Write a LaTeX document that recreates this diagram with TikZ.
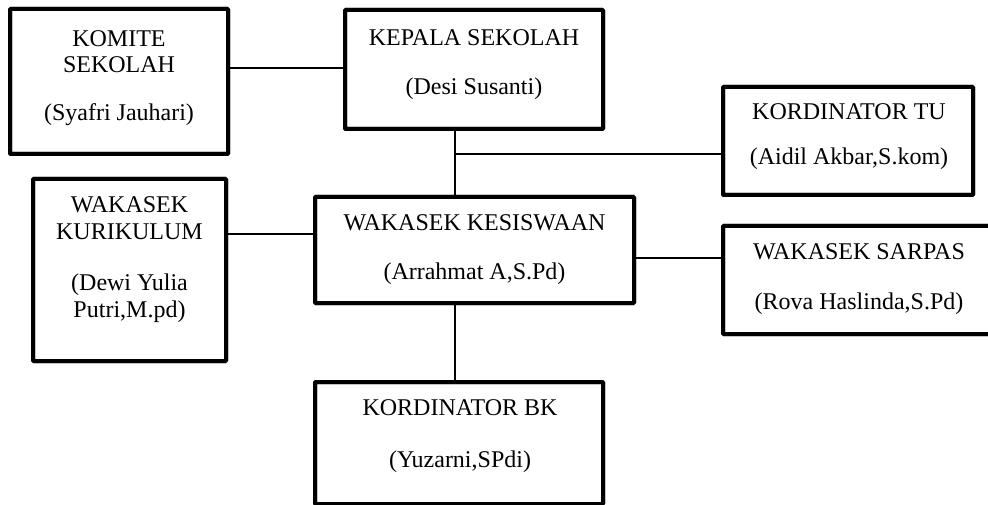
\documentclass[tikz,border=0pt]{standalone}
\usepackage{fontspec}
\setmainfont{Liberation Serif}
\begin{document}
\begin{tikzpicture}[x=1pt,y=-1pt,
  orgbox/.style={draw=black, line width=4pt, rounded corners=1pt, inner sep=0pt, outer sep=0pt, fill=white},
  txt/.style={anchor=base, inner sep=0pt, font=\fontsize{24}{27.6}\selectfont},
  conn/.style={draw=black, line width=1.6pt}]
\useasboundingbox (0,0) rectangle (988,505);
\fill[white] (0,0) rectangle (988,505);

% connector reference points
\coordinate (yKomite) at (0,68);
\coordinate (xMain) at (455,0);
\coordinate (yTU) at (0,154);
\coordinate (yKur) at (0,234);
\coordinate (ySar) at (0,258);

% boxes
\node[orgbox, minimum width=218pt, minimum height=145pt] (komite) at (119,81.5) {};
\node[orgbox, minimum width=258pt, minimum height=119pt] (kepala) at (474,69.5) {};
\node[orgbox, minimum width=250pt, minimum height=108pt] (tu) at (848,141) {};
\node[orgbox, minimum width=272pt, minimum height=108pt] (sarpas) at (859,280) {};
\node[orgbox, minimum width=193pt, minimum height=182pt] (kurikulum) at (129.5,270) {};
\node[orgbox, minimum width=319pt, minimum height=106pt] (kesiswaan) at (474.5,250) {};
\node[orgbox, minimum width=288pt, minimum height=122pt] (bk) at (459,443) {};

% connectors
\begin{scope}[on background layer/.try]
\end{scope}
\draw[conn] (komite.east |- yKomite) -- (kepala.west |- yKomite);
\draw[conn] (kepala.south -| xMain) -- (kesiswaan.north -| xMain);
\coordinate (tuJoin) at (xMain |- yTU);
\draw[conn] (tuJoin) -- (tu.west |- yTU);
\draw[conn] (kurikulum.east |- yKur) -- (kesiswaan.west |- yKur);
\draw[conn] (kesiswaan.east |- ySar) -- (sarpas.west |- ySar);
\draw[conn] (kesiswaan.south -| xMain) -- (bk.north -| xMain);

% redraw borders over connector ends
\foreach \n in {komite,kepala,tu,sarpas,kurikulum,kesiswaan,bk}{
  \draw[line width=4pt, rounded corners=1pt] (\n.north west) rectangle (\n.south east);
}

% texts
\node[txt] (komite1) at (119,47) {KOMITE};
\node[txt] (komite2) at (119,73) {SEKOLAH};
\node[txt] (komite3) at (119,121) {(Syafri Jauhari)};

\node[txt] (kepala1) at (474,46) {KEPALA SEKOLAH};
\node[txt] (kepala2) at (474,95) {(Desi Susanti)};

\node[txt] (tu1) at (849,120) {KORDINATOR TU};
\node[txt] (tu2) at (849,165) {(Aidil Akbar,S.kom)};

\node[txt] (sarpas1) at (859,259) {WAKASEK SARPAS};
\node[txt] (sarpas2) at (859,309) {(Rova Haslinda,S.Pd)};

\node[txt] (kur1) at (129.5,213) {WAKASEK};
\node[txt] (kur2) at (129.5,240) {KURIKULUM};
\node[txt] (kur3) at (129.5,290) {(Dewi Yulia};
\node[txt] (kur4) at (129.5,317) {Putri,M.pd)};

\node[txt] (kes1) at (474.5,230) {WAKASEK KESISWAAN};
\node[txt] (kes2) at (474.5,279) {(Arrahmat A,S.Pd)};

\node[txt] (bk1) at (460,415) {KORDINATOR BK};
\node[txt] (bk2) at (460,467) {(Yuzarni,SPdi)};
\end{tikzpicture}
\end{document}
